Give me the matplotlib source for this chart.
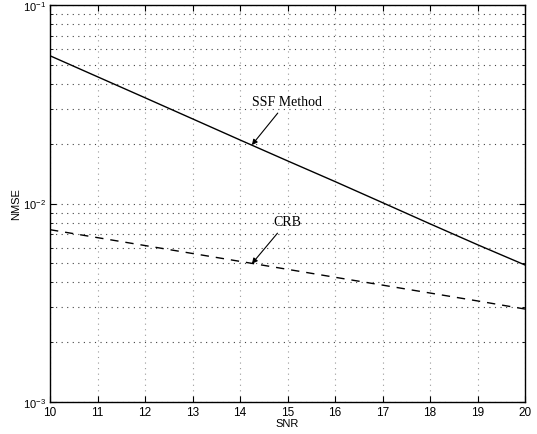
import matplotlib
matplotlib.use('Agg')
import matplotlib.pyplot as plt
import numpy as np

snr = [10, 11, 12, 13, 14, 15, 16, 17, 18, 19, 20]
nmse_ssf = [0.0555, 0.0435, 0.0341, 0.0267, 0.0209, 0.0164, 0.0129, 0.0101, 0.0079, 0.0062, 0.0049]
nmse_crb = [0.00738, 0.00673, 0.00614, 0.00560, 0.00511, 0.00466, 0.00425, 0.00388, 0.00354, 0.00323, 0.00294]

plt.rcParams['font.family'] = ['Liberation Sans', 'DejaVu Sans']

fig = plt.figure(figsize=(5.37, 4.35), dpi=100)
ax = fig.add_axes([50/537, 1 - 403/435, 475/537, 397/435])

ax.semilogy(snr, nmse_ssf, color='black', linewidth=1.0)
ax.semilogy(snr, nmse_crb, color='black', linewidth=1.0, linestyle=(0, (6, 5)))

ax.set_xlim(10, 20)
ax.set_ylim(1e-3, 1e-1)
ax.set_xticks(snr)
ax.tick_params(which='both', direction='in', top=True, right=True, labelsize=8.5)
ax.tick_params(axis='y', labelsize=8)
ax.tick_params(which='major', length=4, pad=3)
ax.tick_params(which='minor', length=2)
ax.grid(True, which='major', axis='x', linestyle=(0, (1, 4)), color='#999999', linewidth=0.8)
ax.grid(True, which='both', axis='y', linestyle=(0, (1, 4)), color='#444444', linewidth=0.8)
for s in ax.spines.values():
    s.set_linewidth(1.0)

ax.set_xlabel('SNR', fontsize=8, labelpad=0)
ax.set_ylabel('NMSE', fontsize=8, labelpad=1)

serif = ['Liberation Serif', 'DejaVu Serif']
ax.annotate('SSF Method', xy=(14.25, 0.0197), xytext=(14.99, 0.0326),
            ha='center', va='center', fontsize=10, family=serif,
            arrowprops=dict(arrowstyle='-|>', color='black', lw=0.8, mutation_scale=8, shrinkA=2, shrinkB=0))
ax.annotate('CRB', xy=(14.25, 0.00497), xytext=(14.99, 0.00809),
            ha='center', va='center', fontsize=10, family=serif,
            arrowprops=dict(arrowstyle='-|>', color='black', lw=0.8, mutation_scale=8, shrinkA=2, shrinkB=0))

fig.savefig('out.png', dpi=100)
